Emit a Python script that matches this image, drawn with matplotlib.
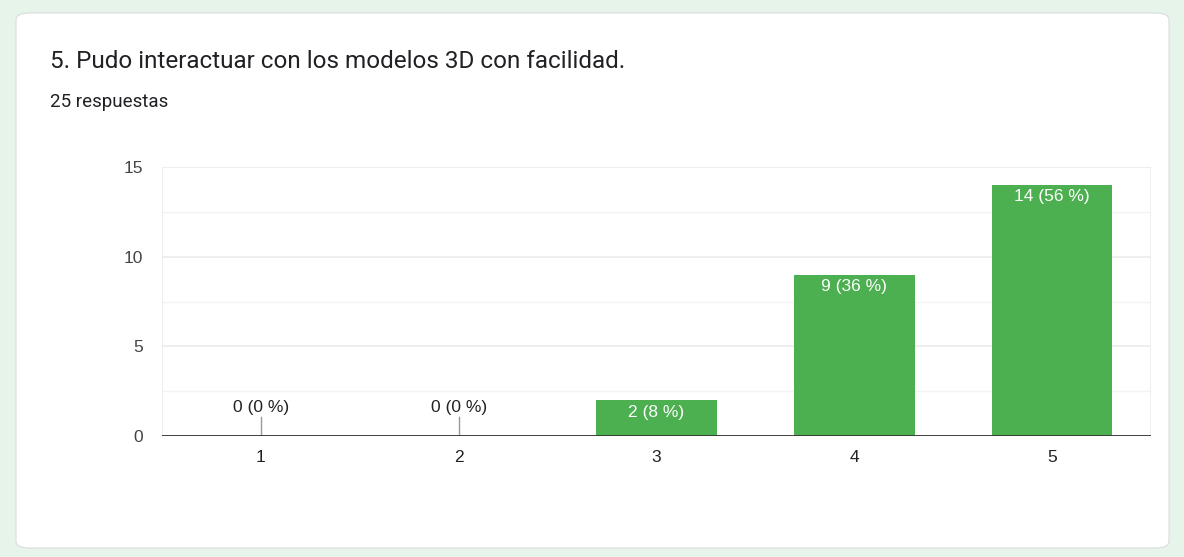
import matplotlib
matplotlib.use("Agg")
import matplotlib.pyplot as plt
from matplotlib.patches import FancyBboxPatch

categories = ["1", "2", "3", "4", "5"]
counts = [0, 0, 2, 9, 14]
percents = [0, 0, 8, 36, 56]
yticks = [0, 5, 10, 15]
title = "5. Pudo interactuar con los modelos 3D con facilidad."
subtitle = "25 respuestas"

W, H = 1184, 557
fig = plt.figure(figsize=(W / 100, H / 100), dpi=100)
fig.patch.set_facecolor("#e6f4ea")

card = FancyBboxPatch((16 / W, (H - 548) / H), (1169 - 16) / W, (548 - 13) / H,
                      boxstyle="round,pad=0,rounding_size=0.012",
                      transform=fig.transFigure, facecolor="white",
                      edgecolor="#dadce0", linewidth=0.8, zorder=-5)
fig.patches.append(card)

fig.text(50 / W, 1 - 62 / H, title, fontsize=17.5, family="Roboto",
         color="#202124", va="center", ha="left")
fig.text(50 / W, 1 - 102 / H, subtitle, fontsize=13.5, family="Roboto",
         color="#202124", va="center", ha="left")

ax = fig.add_axes([162 / W, 1 - 436 / H, (1151 - 162) / W, (436 - 167) / H])
ax.set_zorder(2)
ax.set_facecolor("none")
x = list(range(1, len(categories) + 1))
ax.set_xlim(0.5, len(categories) + 0.5)
ax.set_ylim(0, 15)

for yv in [2.5, 7.5, 12.5]:
    ax.axhline(yv, color="#f3f3f3", lw=1, zorder=0)
for yv in [5, 10, 15]:
    ax.axhline(yv, color="#ebebeb", lw=1.2, zorder=0)
ax.axvline(0.5, color="#ebebeb", lw=1.2, zorder=0)
ax.axvline(len(categories) + 0.5, color="#ebebeb", lw=1.2, zorder=0)

ax.bar(x, counts, width=0.61, color="#4caf50", zorder=2)

for xi, c, p in zip(x, counts, percents):
    lab = f"{c} ({p} %)"
    if c == 0:
        ax.plot([xi, xi], [0, 1.05], color="#999999", lw=1, zorder=3)
        ax.text(xi, 1.15, lab, ha="center", va="bottom", fontsize=12.5,
                family="Liberation Sans", color="#222222")
    else:
        ax.text(xi, c - 0.25, lab, ha="center", va="top", fontsize=12.5,
                family="Liberation Sans", color="white")

ax.axhline(0, color="#333333", lw=1.3, zorder=4)

ax.set_xticks(x)
ax.set_xticklabels(categories, family="Liberation Sans", fontsize=12.5, color="#222222")
ax.set_yticks(yticks)
ax.set_yticklabels([str(v) for v in yticks], family="Liberation Sans", fontsize=12.5, color="#444444")
ax.tick_params(axis="both", length=0)
ax.tick_params(axis="x", pad=10)
ax.tick_params(axis="y", pad=13.5)
for s in ax.spines.values():
    s.set_visible(False)

fig.savefig("out.png", dpi=100, facecolor=fig.get_facecolor())
